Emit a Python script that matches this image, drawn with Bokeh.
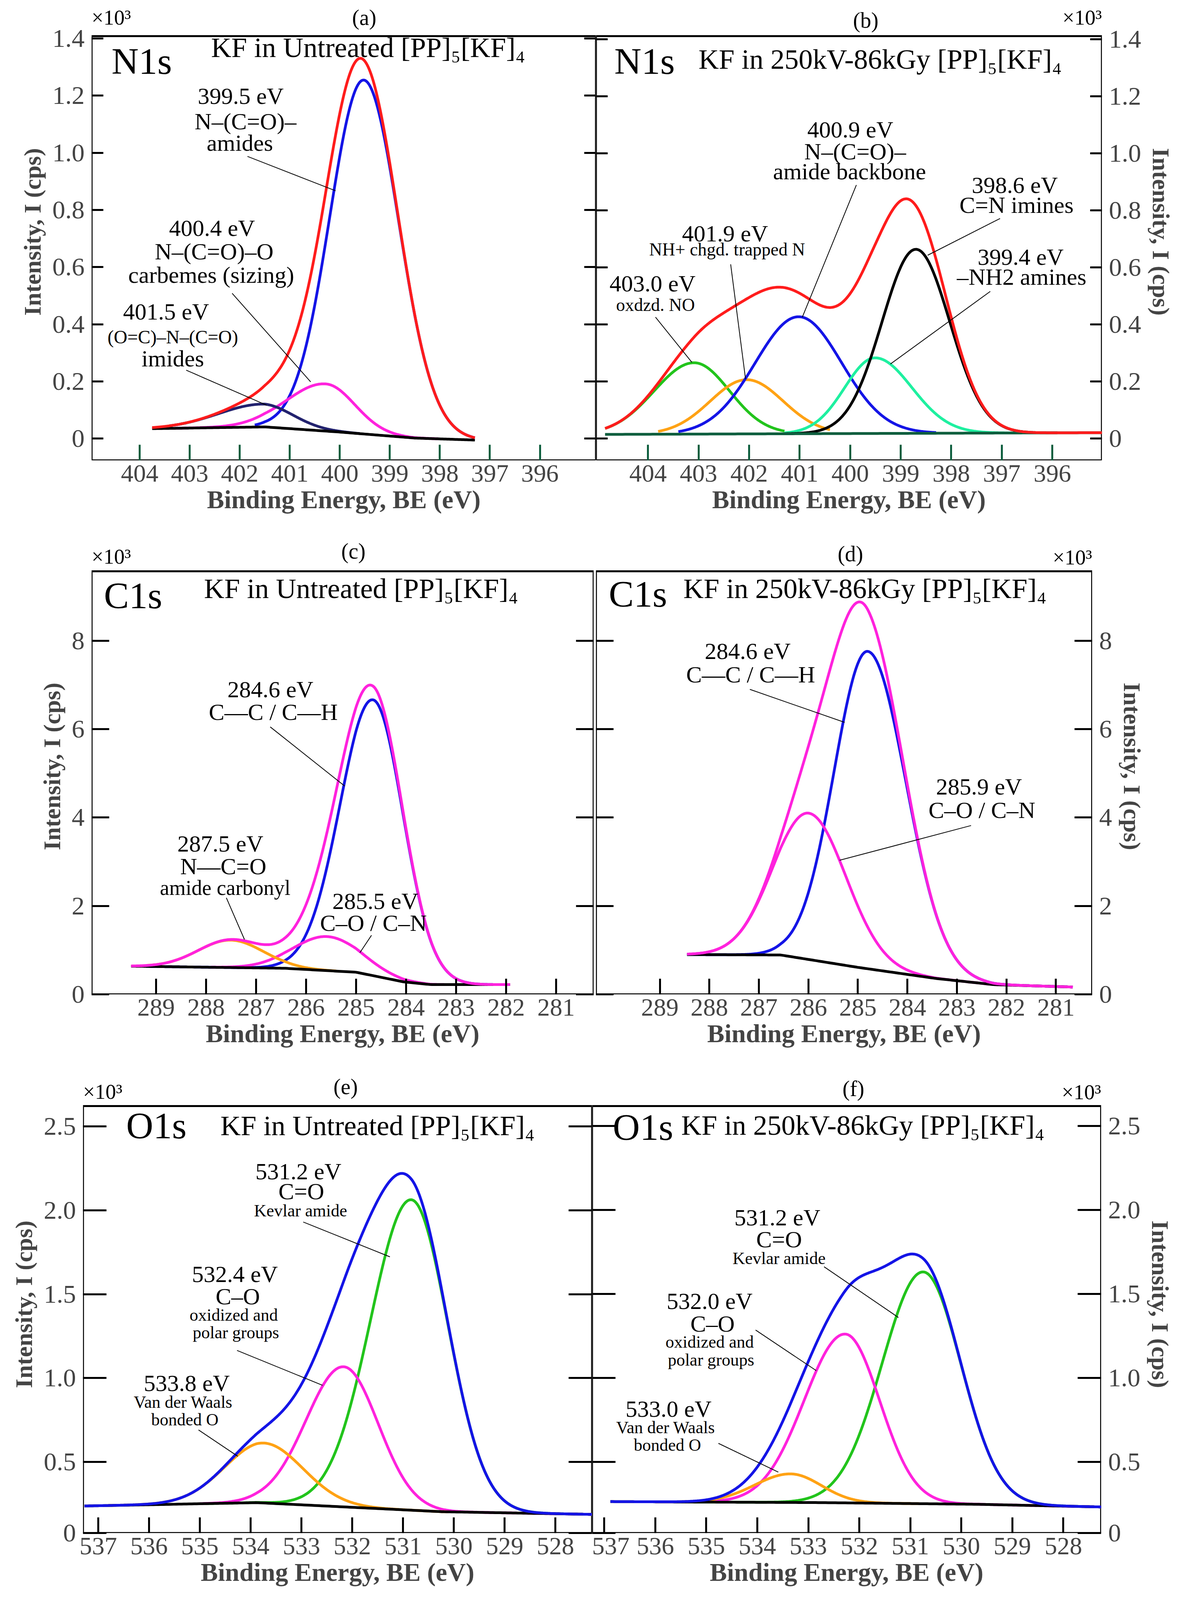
import numpy as np
from bokeh.plotting import figure
from bokeh.layouts import column, row
from bokeh.models import Range1d, LinearAxis, FixedTicker, Label
from bokeh.embed import file_html
from bokeh.resources import INLINE

FONT = "Liberation Serif"

# ---------------- data ----------------
# (a) N1s untreated
A_BG_X = [403.75, 401.5, 400.0, 398.5, 397.3]
A_BG_Y = [0.035, 0.041, 0.023, 0.002, -0.005]
A_CENTER = [399.52, 400.28, 401.54]
A_AMP = [1.238, 0.165, 0.080]
A_SIGL = [0.68, 0.77, 0.89]
A_SIGR = [0.70, 0.58, 0.60]
A_START = [401.7, 403.3, 403.4]
A_END = [397.3, 398.0, 399.6]
A_ENV = [403.75, 397.3]
# (b) N1s irradiated
B_BG_X = [404.85, 395.0]
B_BG_Y = [0.015, 0.021]
B_CENTER = [403.09, 402.05, 401.02, 399.51, 398.70]
B_AMP = [0.250, 0.190, 0.410, 0.265, 0.645]
B_SIGL = [0.79, 0.72, 0.86, 0.60, 0.67]
B_SIGR = [0.70, 0.72, 0.85, 0.73, 0.67]
B_START = [404.85, 403.8, 403.4, 401.3, 401.3]
B_END = [401.3, 400.4, 398.3, 396.6, 395.9]
B_ENV = [404.85, 395.0]
# (c) C1s untreated
C_BG_X = [289.47, 286.43, 285.0, 284.04, 283.5, 281.92]
C_BG_Y = [0.636, 0.59, 0.50, 0.28, 0.22, 0.22]
C_CENTER = [284.66, 285.58, 287.51]
C_AMP = [6.24, 0.77, 0.62]
C_SIGL = [0.66, 0.68, 0.65]
C_SIGR = [0.60, 0.68, 0.65]
C_START = [289.2, 287.9, 289.2]
C_END = [281.92, 281.92, 285.4]
C_ENV = [289.5, 281.92]
# (d) C1s irradiated
D_BG_X = [288.45, 286.56, 285.0, 283.43, 282.26, 280.66]
D_BG_Y = [0.90, 0.89, 0.61, 0.36, 0.22, 0.165]
D_CENTER = [284.80, 285.99]
D_AMP = [7.18, 3.31]
D_SIGL = [0.68, 0.72]
D_SIGR = [0.77, 0.75]
D_START = [288.45, 288.45]
D_END = [280.66, 280.66]
D_ENV = [288.45, 280.66]
# (e) O1s untreated
E_BG_X = [537.27, 533.88, 532.13, 530.24, 527.28]
E_BG_Y = [0.238, 0.258, 0.232, 0.204, 0.188]
E_CENTER = [530.84, 532.17, 533.74]
E_AMP = [1.85, 0.835, 0.357]
E_SIGL = [0.80, 0.74, 0.77]
E_SIGR = [0.72, 0.68, 0.77]
E_START = [535.0, 535.0, 536.8]
E_END = [527.28, 527.28, 530.1]
E_ENV = [537.27, 527.28]
# (f) O1s irradiated
F_BG_X = [536.88, 532.76, 529.69, 527.23]
F_BG_Y = [0.264, 0.258, 0.248, 0.232]
F_CENTER = [530.75, 532.28, 533.35]
F_AMP = [1.38, 1.005, 0.17]
F_SIGL = [0.80, 0.80, 0.70]
F_SIGR = [0.74, 0.68, 0.60]
F_START = [536.0, 536.0, 535.9]
F_END = [527.23, 527.23, 530.7]
F_ENV = [536.88, 527.23]

X_TICKS_N = [404, 403, 402, 401, 400, 399, 398, 397, 396]
X_TICKS_C = [289, 288, 287, 286, 285, 284, 283, 282, 281]
X_TICKS_O = [537, 536, 535, 534, 533, 532, 531, 530, 529, 528]
Y_TICKS_N = [0, 0.2, 0.4, 0.6, 0.8, 1.0, 1.2, 1.4]
Y_LABELS_N = ["0", "0.2", "0.4", "0.6", "0.8", "1.0", "1.2", "1.4"]
Y_TICKS_C = [0, 2, 4, 6, 8]
Y_LABELS_C = ["0", "2", "4", "6", "8"]
Y_TICKS_O = [0.077, 0.5, 1.0, 1.5, 2.0, 2.5]
Y_LABELS_O = ["0", "0.5", "1.0", "1.5", "2.0", "2.5"]

RED = "#ff1c1c"; BLUE = "#1414e6"; MAG = "#ff22dd"; NAVY = "#22226e"
GREEN = "#22c41c"; ORANGE = "#ffa214"; CYAN = "#1ef0a0"; DKGREEN = "#0e5e3e"

SUB = "KF in Untreated [PP]\u2085[KF]\u2084"
IRR = "KF in 250kV-86kGy [PP]\u2085[KF]\u2084"
TOPPAD = 8


def bgfun(bx, by, x):
    bx = np.asarray(bx); by = np.asarray(by)
    o = np.argsort(bx)
    return np.interp(x, bx[o], by[o])


def comp(x, c, a, sl, sr):
    s = np.where(x > c, sl, sr)
    return a * np.exp(-(x - c) ** 2 / (2 * s ** 2))


def panel(cfg):
    xr = cfg["xr"]; yr = cfg["yr"]
    fh = cfg["h"] - cfg["bt"] - cfg["bb"]
    upp = (yr[1] - yr[0]) / fh
    ytop_ext = yr[1] + (cfg["bt"] - TOPPAD) * upp
    p = figure(width=cfg["w"], height=cfg["h"], output_backend="svg",
               toolbar_location=None, x_range=Range1d(xr[0], xr[1]),
               y_range=Range1d(yr[0], ytop_ext), x_axis_location=None,
               y_axis_location=None,
               min_border_left=cfg["bl"], min_border_right=cfg["br"],
               min_border_top=TOPPAD, min_border_bottom=cfg["bb"])
    p.grid.visible = False
    p.background_fill_color = "white"
    p.outline_line_color = None
    p.line([xr[0], xr[1], xr[1], xr[0], xr[0]], [yr[0], yr[0], yr[1], yr[1], yr[0]],
           line_color="black", line_width=5)
    xa = LinearAxis(ticker=FixedTicker(ticks=cfg["xt"]),
                    axis_label="Binding Energy, BE (eV)")
    xa.major_tick_in = 40; xa.major_tick_out = 0; xa.minor_tick_in = 0; xa.minor_tick_out = 0
    xa.major_tick_line_width = 5; xa.major_tick_line_color = cfg["xtc"]
    xa.axis_line_color = None
    xa.major_label_text_font = FONT; xa.major_label_text_font_size = "64px"
    xa.major_label_standoff = 12
    xa.axis_label_text_font = FONT; xa.axis_label_text_font_style = "bold"
    xa.axis_label_text_font_size = "66px"; xa.axis_label_standoff = 6
    p.add_layout(xa, "below")
    for side in ("left", "right"):
        ya = LinearAxis(ticker=FixedTicker(ticks=cfg["yt"]))
        ya.major_tick_in = cfg["ytl"]; ya.major_tick_out = 0
        ya.minor_tick_in = 0; ya.minor_tick_out = 0
        ya.major_tick_line_width = 5; ya.axis_line_color = None
        ya.major_label_text_font = FONT
        if side == cfg["yside"]:
            ya.major_label_overrides = dict(zip(cfg["yt"], cfg["yl"]))
            ya.major_label_text_font_size = "66px"
            ya.major_label_standoff = 18
            ya.axis_label = "Intensity, I (cps)"
            ya.axis_label_text_font = FONT; ya.axis_label_text_font_style = "bold"
            ya.axis_label_text_font_size = "62px"; ya.axis_label_standoff = 14
        else:
            ya.major_label_overrides = {t: "" for t in cfg["yt"]}
            ya.major_label_text_font_size = "10px"
            ya.major_label_standoff = 0
        p.add_layout(ya, side)

    bx, by = cfg["bg"]
    env = np.linspace(cfg["env"][0], cfg["env"][1], 600)
    total = bgfun(bx, by, env).copy()
    for c, a, sl, sr in zip(cfg["c"], cfg["a"], cfg["sl"], cfg["sr"]):
        total += comp(env, c, a, sl, sr)
    for c, a, sl, sr, s0, s1, col in zip(cfg["c"], cfg["a"], cfg["sl"], cfg["sr"],
                                         cfg["s0"], cfg["s1"], cfg["cols"]):
        xx = np.linspace(s0, s1, 400)
        p.line(xx, bgfun(bx, by, xx) + comp(xx, c, a, sl, sr), line_color=col, line_width=7)
    bxx = np.linspace(cfg["env"][0], cfg["env"][1], 200)
    p.line(bxx, bgfun(bx, by, bxx), line_color=cfg["bgc"], line_width=7)
    p.line(env, total, line_color=cfg["envc"], line_width=7)

    zl, zr, zt, zb = cfg["zf"]

    def d(zx, zy):
        fx = (zx - zl) / (zr - zl); fy = (zy - zt) / (zb - zt)
        x = xr[0] + fx * (xr[1] - xr[0])
        lo, hi = min(xr), max(xr)
        x = min(max(x, lo), hi)
        return x, yr[1] - fy * (yr[1] - yr[0])

    for (zx, zy, t, sz, al) in cfg["txt"]:
        x, y = d(zx, zy)
        p.add_layout(Label(x=x, y=y, text=t, text_font=FONT, text_font_size=f"{sz}px",
                           text_align=al, text_baseline="middle", text_color="black"))
    for (x0, y0, x1, y1) in cfg["lead"]:
        a0 = d(x0, y0); a1 = d(x1, y1)
        p.segment(x0=[a0[0]], y0=[a0[1]], x1=[a1[0]], y1=[a1[1]], line_color="black", line_width=2)
    return p


def hdr(zx_core, zy_core, core, zx_t, zy_t, title, zx_l, zy_l, let, zx_m, zy_m, m_al="left"):
    return [(zx_core, zy_core, core, 96, "left"), (zx_t, zy_t, title, 72, "left"),
            (zx_l, zy_l, let, 56, "center"), (zx_m, zy_m, "\u00d710\u00b3", 54, m_al)]


R1 = dict(h=1370, bt=92, bb=192)
R2 = dict(h=1375, bt=92, bb=200)
R3 = dict(h=1345, bt=86, bb=166)

cfgA = dict(w=1525, bl=234, br=0, **R1,
            xr=[404.96, 394.88], yr=[-0.076, 1.408], xt=X_TICKS_N, xtc=DKGREEN,
            yt=Y_TICKS_N, yl=Y_LABELS_N, ytl=30, yside="left",
            bg=(A_BG_X, A_BG_Y), env=A_ENV, c=A_CENTER, a=A_AMP, sl=A_SIGL, sr=A_SIGR,
            s0=A_START, s1=A_END, cols=[BLUE, MAG, NAVY], bgc="black", envc=RED,
            zf=[243, 1560, 115, 1385],
            txt=hdr(295, 190, "N1s", 555, 150, SUB, 955, 60, "(a)", 235, 60) + [
                (640, 295, "399.5  eV", 60, "center"), (645, 370, "N\u2013(C=O)\u2013", 60, "center"),
                (630, 435, "amides", 60, "center"),
                (565, 690, "400.4  eV", 60, "center"), (563, 760, "N\u2013(C=O)\u2013O", 60, "center"),
                (563, 830, "carbemes  (sizing)", 60, "center"),
                (445, 940, "401.5  eV", 60, "center"), (455, 1015, "(O=C)\u2013N\u2013(C=O)", 48, "center"),
                (455, 1080, "imides", 60, "center")],
            lead=[(650, 475, 880, 578), (610, 885, 815, 1150), (490, 1115, 700, 1220)])

cfgB = dict(w=1523, bl=0, br=228, **R1,
            xr=[405.03, 395.02], yr=[-0.076, 1.411], xt=X_TICKS_N, xtc=DKGREEN,
            yt=Y_TICKS_N, yl=Y_LABELS_N, ytl=30, yside="right",
            bg=(B_BG_X, B_BG_Y), env=B_ENV, c=B_CENTER, a=B_AMP, sl=B_SIGL, sr=B_SIGR,
            s0=B_START, s1=B_END, cols=[GREEN, ORANGE, BLUE, CYAN, "black"], bgc=DKGREEN, envc=RED,
            zf=[33, 1325, 115, 1383],
            txt=hdr(80, 190, "N1s", 295, 185, IRR, 722, 68, "(b)", 1325, 60, "right") + [
                (690, 395, "400.9  eV", 60, "center"), (695, 460, "N\u2013(C=O)\u2013", 60, "center"),
                (688, 520, "amide  backbone", 60, "center"),
                (1110, 560, "398.6  eV", 60, "center"), (1107, 620, "C=N imines", 60, "center"),
                (1125, 775, "399.4  eV", 60, "center"), (1120, 835, "\u2013NH2 amines", 60, "center"),
                (370, 705, "401.9  eV", 60, "center"), (368, 752, "NH+ chgd. trapped N", 46, "center"),
                (185, 855, "403.0  eV", 60, "center"), (185, 918, "oxdzd. NO", 46, "center")],
            lead=[(698, 560, 560, 955), (1065, 660, 880, 770), (1040, 878, 785, 1095),
                  (377, 797, 415, 1140), (185, 955, 278, 1090)])

cfgC = dict(w=1525, bl=234, br=6, **R2,
            xr=[290.29, 280.25], yr=[0, 9.57], xt=X_TICKS_C, xtc="black",
            yt=Y_TICKS_C, yl=Y_LABELS_C, ytl=45, yside="left",
            bg=(C_BG_X, C_BG_Y), env=C_ENV, c=C_CENTER, a=C_AMP, sl=C_SIGL, sr=C_SIGR,
            s0=C_START, s1=C_END, cols=[BLUE, MAG, ORANGE], bgc="black", envc=MAG,
            zf=[248, 1552, 100, 1318],
            txt=hdr(280, 170, "C1s", 540, 150, SUB, 928, 42, "(c)", 248, 58) + [
                (720, 440, "284.6  eV", 60, "center"), (720, 505, "C\u2014C / C\u2014H", 60, "center"),
                (590, 885, "287.5  eV", 60, "center"), (590, 950, "N\u2014C=O", 60, "center"),
                (595, 1012, "amide carbonyl", 54, "center"),
                (985, 1050, "285.5 eV", 60, "center"), (980, 1113, "C\u2013O / C\u2013N", 60, "center")],
            lead=[(712, 548, 905, 718), (598, 1040, 645, 1160), (975, 1148, 945, 1198)])

cfgD = dict(w=1523, bl=0, br=253, **R2,
            xr=[290.29, 280.27], yr=[0, 9.57], xt=X_TICKS_C, xtc="black",
            yt=Y_TICKS_C, yl=Y_LABELS_C, ytl=45, yside="right",
            bg=(D_BG_X, D_BG_Y), env=D_ENV, c=D_CENTER, a=D_AMP, sl=D_SIGL, sr=D_SIGR,
            s0=D_START, s1=D_END, cols=[BLUE, MAG], bgc="black", envc=MAG,
            zf=[22, 1305, 100, 1318],
            txt=hdr(55, 165, "C1s", 248, 150, IRR, 680, 50, "(d)", 1305, 60, "right") + [
                (422, 330, "284.6  eV", 60, "center"), (422, 398, "C\u2014C / C\u2014H", 60, "center"),
                (1020, 720, "285.9  eV", 60, "center"), (1020, 788, "C\u2013O / C\u2013N", 60, "center")],
            lead=[(420, 440, 665, 535), (992, 832, 652, 932)])

cfgE = dict(w=1515, bl=212, br=0, **R3,
            xr=[537.3, 527.28], yr=[0.077, 2.621], xt=X_TICKS_O, xtc="black",
            yt=Y_TICKS_O, yl=Y_LABELS_O, ytl=60, yside="left",
            bg=(E_BG_X, E_BG_Y), env=E_ENV, c=E_CENTER, a=E_AMP, sl=E_SIGL, sr=E_SIGR,
            s0=E_START, s1=E_END, cols=[GREEN, MAG, ORANGE], bgc="black", envc=BLUE,
            zf=[218, 1540, 92, 1355],
            txt=hdr(330, 150, "O1s", 575, 150, SUB, 900, 35, "(e)", 218, 50) + [
                (785, 285, "531.2  eV", 60, "center"), (785, 345, "C=O", 60, "center"),
                (783, 402, "Kevlar amide", 44, "center"),
                (620, 590, "532.4  eV", 60, "center"), (620, 655, "C\u2013O", 60, "center"),
                (615, 710, "oxidized  and", 44, "center"), (615, 762, "polar groups", 44, "center"),
                (495, 912, "533.8  eV", 60, "center"), (478, 968, "Van der Waals", 44, "center"),
                (488, 1020, "bonded  O", 44, "center")],
            lead=[(790, 435, 1015, 538), (618, 815, 840, 918), (518, 1050, 620, 1128)])

cfgF = dict(w=1533, bl=0, br=230, **R3,
            xr=[537.24, 527.26], yr=[0.077, 2.619], xt=X_TICKS_O, xtc="black",
            yt=Y_TICKS_O, yl=Y_LABELS_O, ytl=60, yside="right",
            bg=(F_BG_X, F_BG_Y), env=F_ENV, c=F_CENTER, a=F_AMP, sl=F_SIGL, sr=F_SIGR,
            s0=F_START, s1=F_END, cols=[GREEN, MAG, ORANGE], bgc="black", envc=BLUE,
            zf=[12, 1313, 93, 1355],
            txt=hdr(65, 155, "O1s", 240, 150, IRR, 680, 42, "(f)", 1313, 52, "right") + [
                (493, 423, "531.2  eV", 60, "center"), (490, 487, "C=O", 60, "center"),
                (490, 543, "Kevlar amide", 44, "center"),
                (320, 670, "532.0  eV", 60, "center"), (320, 737, "C\u2013O", 60, "center"),
                (318, 790, "oxidized  and", 44, "center"), (316, 843, "polar groups", 44, "center"),
                (215, 988, "533.0  eV", 60, "center"), (200, 1043, "Van der Waals", 44, "center"),
                (210, 1095, "bonded  O", 44, "center")],
            lead=[(605, 568, 795, 718), (430, 755, 585, 875), (335, 1090, 488, 1175)])

pa, pb, pc, pd, pe, pf = [panel(c) for c in (cfgA, cfgB, cfgC, cfgD, cfgE, cfgF)]
lay = column(row(pa, pb, spacing=0), row(pc, pd, spacing=0), row(pe, pf, spacing=0), spacing=0)
open("out.html", "w").write(file_html(lay, INLINE))
